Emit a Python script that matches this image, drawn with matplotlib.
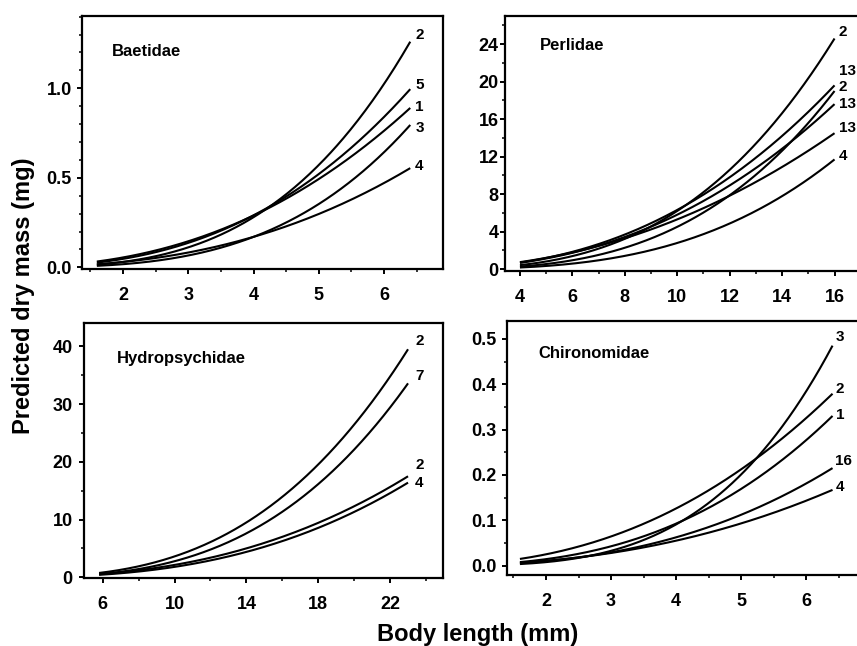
import numpy as np
import matplotlib
matplotlib.use("Agg")
import matplotlib.pyplot as plt
from matplotlib.ticker import MultipleLocator

plt.rcParams['font.family'] = ['Liberation Sans', 'DejaVu Sans']
plt.rcParams['font.weight'] = 'bold'

# ---------------- data ----------------
# Power-law length-mass regressions W = W_end * (L / L_end) ** b
baetidae_labels = ["2", "5", "1", "3", "4"]
baetidae_end_mass = [1.26, 0.995, 0.89, 0.795, 0.554]
baetidae_exponent = [3.20, 2.62, 2.39, 3.28, 2.51]
baetidae_length = (1.6, 6.4)

perlidae_labels = ["2", "13", "2", "13", "13", "4"]
perlidae_end_mass = [24.6, 19.6, 19.0, 17.6, 14.5, 11.7]
perlidae_exponent = [2.93, 2.41, 3.06, 2.36, 2.14, 3.05]
perlidae_length = (4.0, 16.0)

hydro_labels = ["2", "7", "2", "4"]
hydro_end_mass = [39.5, 33.6, 17.5, 16.4]
hydro_exponent = [2.87, 2.99, 2.52, 2.65]
hydro_length = (5.8, 23.0)

chiro_labels = ["3", "2", "1", "16", "4"]
chiro_end_mass = [0.485, 0.379, 0.330, 0.215, 0.167]
chiro_exponent = [3.56, 2.34, 2.70, 2.63, 2.36]
chiro_length = (1.6, 6.4)

panel_titles = ["Baetidae", "Perlidae", "Hydropsychidae", "Chironomidae"]

# ---------------- layout ----------------
W_PX, H_PX = 857, 646
fig = plt.figure(figsize=(W_PX / 100, H_PX / 100), dpi=100)


def rect(left, top, right, bottom):
    return [left / W_PX, 1 - bottom / H_PX, (right - left) / W_PX, (bottom - top) / H_PX]


panels = [
    dict(rect=rect(81.7, 15.7, 442.7, 269.5), xlim=(1.368, 6.897), ylim=(-0.012, 1.405),
         xmaj=[2, 3, 4, 5, 6], xmin=0.5, ymaj=[0.0, 0.5, 1.0], ymin=0.1, yfmt="{:.1f}",
         labels=baetidae_labels, mass=baetidae_end_mass, b=baetidae_exponent, L=baetidae_length,
         offs=[(5, 7), (5, 4), (5, 1), (5, -3), (5, 2)], title_xy=(112, 51), ypad=3.5),
    dict(rect=rect(505, 16, 866, 271), xlim=(3.43, 17.2), ylim=(-0.2, 27.0),
         xmaj=[4, 6, 8, 10, 12, 14, 16], xmin=1, ymaj=[0, 4, 8, 12, 16, 20, 24], ymin=2, yfmt="{:.0f}",
         labels=perlidae_labels, mass=perlidae_end_mass, b=perlidae_exponent, L=perlidae_length,
         offs=[(4, 7), (4, 14), (4, 4), (4, 0), (4, 5), (4, 3)], title_xy=(540, 45), ypad=1.0),
    dict(rect=rect(84, 323.3, 442.7, 578.3), xlim=(4.96, 24.93), ylim=(-0.17, 44.0),
         xmaj=[6, 10, 14, 18, 22], xmin=2, ymaj=[0, 10, 20, 30, 40], ymin=5, yfmt="{:.0f}",
         labels=hydro_labels, mass=hydro_end_mass, b=hydro_exponent, L=hydro_length,
         offs=[(7, 8), (7, 7), (7, 11), (7, 0)], title_xy=(117, 358), ypad=4.5),
    dict(rect=rect(506.7, 320.7, 867.7, 575.3), xlim=(1.397, 6.94), ylim=(-0.0213, 0.540),
         xmaj=[2, 3, 4, 5, 6], xmin=0.5, ymaj=[0.0, 0.1, 0.2, 0.3, 0.4, 0.5], ymin=0.05, yfmt="{:.1f}",
         labels=chiro_labels, mass=chiro_end_mass, b=chiro_exponent, L=chiro_length,
         offs=[(3, 9), (3, 5), (3, 1), (2, 7), (3, 3)], title_xy=(538, 353), ypad=3.5),
]

for p, title in zip(panels, panel_titles):
    ax = fig.add_axes(p["rect"])
    ax.set_xlim(*p["xlim"])
    ax.set_ylim(*p["ylim"])
    for sp in ax.spines.values():
        sp.set_linewidth(1.6)
    ax.set_xticks(p["xmaj"])
    ax.set_yticks(p["ymaj"])
    ax.set_yticklabels([p["yfmt"].format(v) for v in p["ymaj"]])
    ax.xaxis.set_minor_locator(MultipleLocator(p["xmin"]))
    ax.yaxis.set_minor_locator(MultipleLocator(p["ymin"]))
    ax.tick_params(which="major", direction="out", length=3.6, width=1.4, labelsize=13)
    ax.tick_params(which="minor", direction="out", length=2.4, width=1.1)
    ax.tick_params(axis="x", which="major", pad=9)
    ax.tick_params(axis="y", which="major", pad=p["ypad"])
    for lab in ax.get_xticklabels() + ax.get_yticklabels():
        lab.set_fontweight("bold")

    Lmin, Lmax = p["L"]
    Ls = np.linspace(Lmin, Lmax, 300)
    for lab, wend, bb, off in zip(p["labels"], p["mass"], p["b"], p["offs"]):
        Wv = wend * (Ls / Lmax) ** bb
        ax.plot(Ls, Wv, color="black", lw=1.5, solid_capstyle="butt")
        ax.annotate(lab, xy=(Lmax, wend), xytext=(off[0], off[1]),
                    textcoords="offset pixels", ha="left", va="center",
                    fontsize=11, fontweight="bold")

    tx, ty = p["title_xy"]
    fig.text(tx / W_PX, 1 - ty / H_PX, title, ha="left", va="center",
             fontsize=12, fontweight="bold")

fig.text(24 / W_PX, 1 - 296 / H_PX, "Predicted dry mass (mg)", rotation=90,
         ha="center", va="center", fontsize=17, fontweight="bold")
fig.text(478 / W_PX, 1 - 634 / H_PX, "Body length (mm)", ha="center", va="center",
         fontsize=17, fontweight="bold")

fig.savefig("out.png", dpi=100)
